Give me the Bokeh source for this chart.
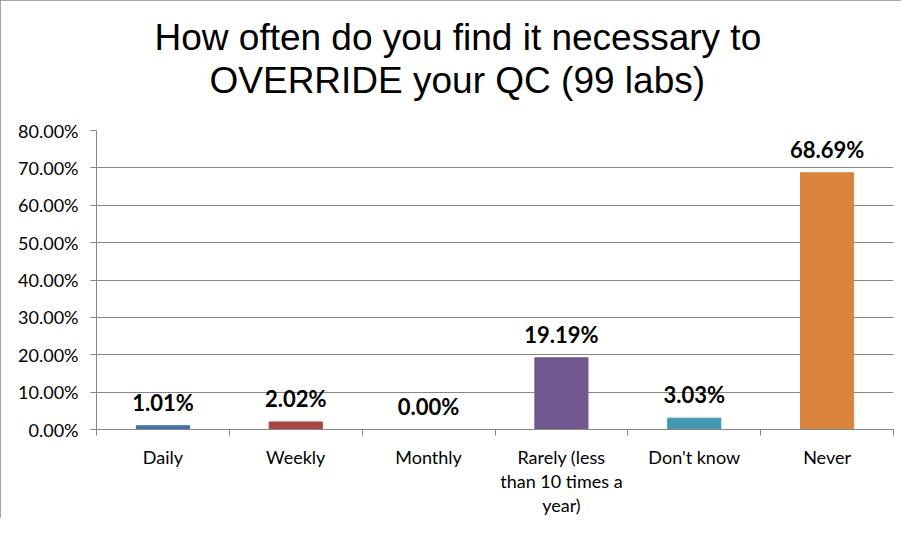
from bokeh.plotting import figure
from bokeh.models import FixedTicker, Range1d, Title, ColumnDataSource
from bokeh.core.properties import value
from bokeh.embed import file_html
from bokeh.resources import INLINE

title_lines = ["How often do you find it necessary to", "OVERRIDE your QC (99 labs)"]
categories = ["Daily", "Weekly", "Monthly", "Rarely (less\nthan 10 times a\nyear)", "Don't know", "Never"]
percentages = [1.01, 2.02, 0.00, 19.19, 3.03, 68.69]
bar_colors = ["#4572A7", "#AA4643", "#89A54E", "#71588F", "#4198AF", "#DB843D"]
y_ticks = [0, 10, 20, 30, 40, 50, 60, 70, 80]
y_tick_labels = ["0.00%", "10.00%", "20.00%", "30.00%", "40.00%", "50.00%", "60.00%", "70.00%", "80.00%"]

GRAY = "#868686"
FONT = "Lato"

n = len(categories)
centers = [i + 0.5 for i in range(n)]
bounds = list(range(n + 1))

src = ColumnDataSource(dict(
    x=centers,
    top=percentages,
    color=bar_colors,
    label=[f"{v:.2f}%" for v in percentages],
))

p = figure(width=901, height=518, x_range=Range1d(0, n), y_range=Range1d(0, 80),
           output_backend="svg", toolbar_location=None, title=None,
           min_border_left=96, min_border_right=8, min_border_top=130, min_border_bottom=88)
p.outline_line_color = None
p.background_fill_color = "white"
p.border_fill_color = "white"
p.styles = {"outline": "2px solid #878787", "outline-offset": "-2px"}

p.vbar(x="x", top="top", width=0.4, color="color", source=src)
p.text(x="x", y="top", text="label", source=src, text_align="center", text_baseline="bottom",
       y_offset=-10, text_font=value(FONT), text_font_style="bold", text_font_size="22px",
       text_color="black")

# x axis: labels at category centres, tick marks at category boundaries
xa = p.xaxis[0]
xa.ticker = FixedTicker(ticks=centers, minor_ticks=bounds)
xa.major_label_overrides = {c: cat for c, cat in zip(centers, categories)}
xa.major_tick_line_color = None
xa.major_tick_out = 0
xa.major_tick_in = 0
xa.minor_tick_line_color = GRAY
xa.minor_tick_out = 6
xa.minor_tick_in = 0
xa.axis_line_color = GRAY
xa.major_label_standoff = 10
xa.major_label_text_font = FONT
xa.major_label_text_font_size = "18px"
xa.major_label_text_line_height = 1.1
xa.major_label_text_color = "black"

ya = p.yaxis[0]
ya.ticker = FixedTicker(ticks=y_ticks)
ya.major_label_overrides = {t: lbl for t, lbl in zip(y_ticks, y_tick_labels)}
ya.major_tick_out = 6
ya.major_tick_in = 0
ya.minor_tick_line_color = None
ya.axis_line_color = GRAY
ya.major_tick_line_color = GRAY
ya.major_label_standoff = 12
ya.major_label_text_font = FONT
ya.major_label_text_font_size = "18px"
ya.major_label_text_color = "black"

p.xgrid.grid_line_color = None
p.ygrid.ticker = FixedTicker(ticks=y_ticks)
p.ygrid.grid_line_color = GRAY

# title lines: nearest to the frame first
for text, off, so in [(title_lines[1], 113, 60), (title_lines[0], 58, -60)]:
    p.add_layout(Title(text=text, align="left", offset=off, standoff=so,
                       text_font="Liberation Sans", text_font_size="37px",
                       text_font_style="normal", text_color="black"), "above")

open("out.html", "w").write(file_html(p, INLINE))
